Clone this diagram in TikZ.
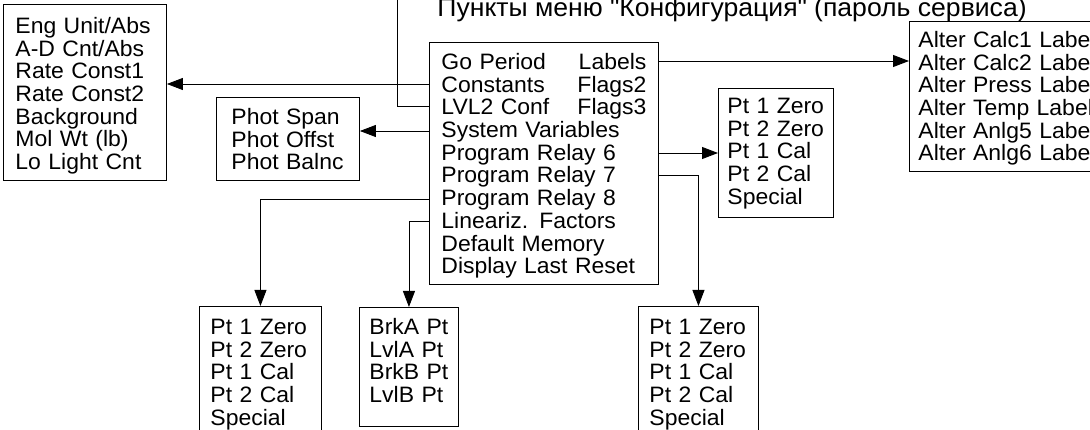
\documentclass[tikz,border=0pt]{standalone}
\usepackage{fontspec}
\setmainfont{Liberation Sans}[FakeStretch=1.03]
\usetikzlibrary{arrows.meta}

\begin{document}
\begin{tikzpicture}[
        x=1pt, y=-1pt,
        line width=0.9pt,
        every node/.style={font=\fontsize{22.3}{22.7}\selectfont},
        menubox/.style={draw, anchor=north west, align=left,
                        inner xsep=12pt, inner ysep=0pt, text height=27pt},
        arr/.style={-{Triangle[length=16pt, width=12pt]}}
    ]
        \useasboundingbox (0,0) rectangle (1090,430);
        \clip (0,0) rectangle (1090,430);

        \node[anchor=base west, inner sep=0pt, font=\fontsize{25.8}{28}\selectfont] (title) at (437,17)
            {Пункты меню \textquotedbl Конфигурация\textquotedbl{} (пароль сервиса)};

        \node[menubox, text width=205pt, text depth=215pt] (main) at (429,42)
            {Go Period\hfill Labels\\ Constants\hfill Flags2\\ LVL2 Conf\hfill Flags3\\
             System Variables\\ Program Relay 6\\ Program Relay 7\\ Program Relay 8\\
             Lineariz. Factors\\ Default Memory\\ Display Last Reset};

        \node[menubox, text width=139pt, text height=29pt, text depth=147pt] (units) at (3,4)
            {Eng Unit/Abs\\ A-D Cnt/Abs\\ Rate Const1\\ Rate Const2\\
             Background\\ Mol Wt (lb)\\ Lo Light Cnt};
        \node[menubox, inner xsep=15pt, text width=113pt, text depth=56pt] (phot) at (216,97)
            {Phot Span\\ Phot Offst\\ Phot Balnc};
        \node[menubox, inner xsep=9pt, text width=183pt, text height=26pt, text depth=124pt] (labels) at (909,21)
            {Alter Calc1 Label\\ Alter Calc2 Label\\ Alter Press Label\\
             Alter Temp Label\\ Alter Anlg5 Label\\ Alter Anlg6 Label};
        \node[menubox, inner xsep=9pt, text width=97pt, text height=25pt, text depth=104pt] (relaysix) at (718,88)
            {Pt 1 Zero\\ Pt 2 Zero\\ Pt 1 Cal\\ Pt 2 Cal\\ Special};

        \node[menubox, inner xsep=11pt, text width=100pt, text height=28pt, text depth=120pt] (relayeight) at (199,306)
            {Pt 1 Zero\\ Pt 2 Zero\\ Pt 1 Cal\\ Pt 2 Cal\\ Special};
        \node[menubox, inner xsep=10pt, text width=79pt, text depth=92pt] (linfact) at (359,307)
            {BrkA Pt\\ LvlA Pt\\ BrkB Pt\\ LvlB Pt};
        \node[menubox, inner xsep=11pt, text width=98pt, text height=28pt, text depth=120pt] (relayseven) at (638,306)
            {Pt 1 Zero\\ Pt 2 Zero\\ Pt 1 Cal\\ Pt 2 Cal\\ Special};

        % lines leaving the main menu
        \coordinate (up) at (397,0);
        \draw (main.west |- 0,106) -| (up);
        \draw[arr] (main.west |- 0,84) -- (units.east |- 0,84);
        \draw[arr] (main.west |- 0,131) -- (phot.east |- 0,131);
        \draw[arr] (main.east |- 0,61) -- (labels.west |- 0,61);
        \draw[arr] (main.east |- 0,153) -- (relaysix.west |- 0,153);
        \draw[arr] (main.east |- 0,175) -| (relayseven.north);
        \draw[arr] (main.west |- 0,199) -| (relayeight.north);
        \draw[arr] (main.west |- 0,221) -| (linfact.north);
    \end{tikzpicture}
\end{document}
